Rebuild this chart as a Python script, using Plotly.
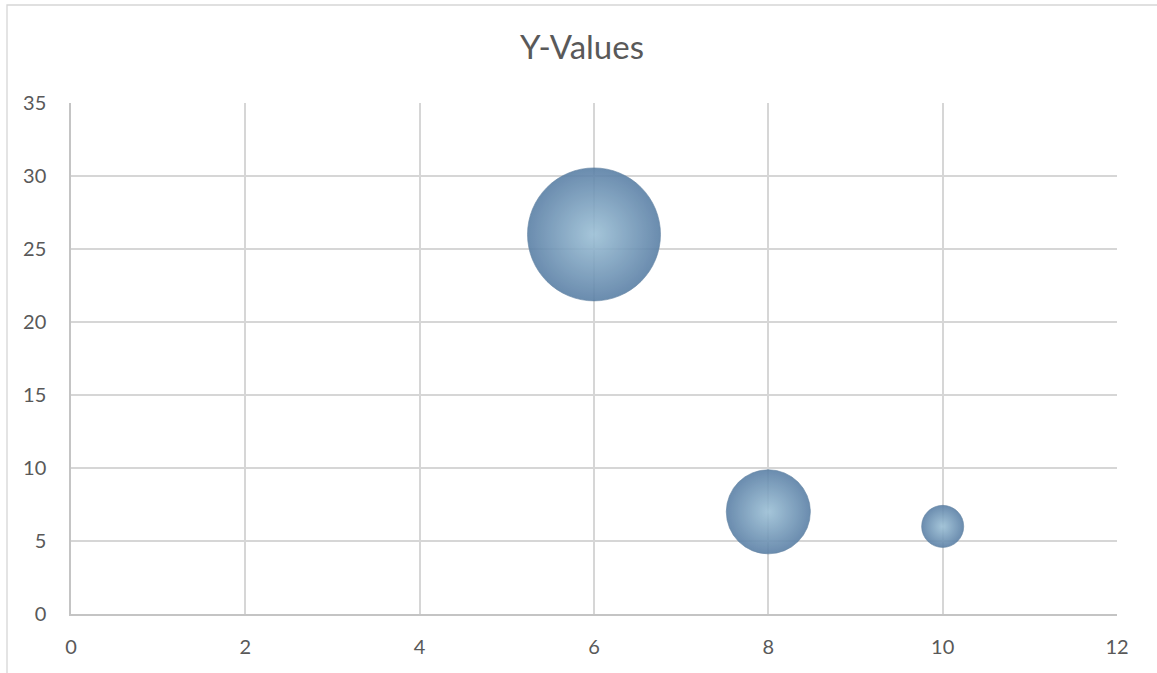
import plotly.graph_objects as go

# Bubble data: x position, y position and bubble size
x_values = [6, 8, 10]
y_values = [26, 7, 6]
bubble_sizes = [10, 4, 1]

x_ticks = [0, 2, 4, 6, 8, 10, 12]
y_ticks = [0, 5, 10, 15, 20, 25, 30, 35]

W, H = 1157, 673
M_L, M_R, M_T, M_B = 71, 40, 103, 59

text_color = "#595959"
grid_color = "#d6d6d6"
axis_color = "#c4c4c4"
font_family = "Lato, 'Open Sans', sans-serif"

# largest bubble is about 133 px across
MAX_DIAMETER = 133

fig = go.Figure()

fig.add_trace(
    go.Scatter(
        x=x_values,
        y=y_values,
        mode="markers",
        name="Y-Values",
        marker=dict(
            size=bubble_sizes,
            sizemode="area",
            sizeref=2.0 * max(bubble_sizes) / MAX_DIAMETER ** 2,
            color="#5b80a6",
            opacity=0.9,
            gradient=dict(type="radial", color="#9cc0d6"),
            line=dict(width=0.6, color="#56789a"),
        ),
        hoverinfo="x+y",
    )
)

plot_w = W - M_L - M_R
plot_h = H - M_T - M_B

# Chart-area border: left and top edges visible inside the frame
fig.add_shape(
    type="rect",
    xref="paper",
    yref="paper",
    x0=(7 - M_L) / plot_w,
    x1=(W + 20 - M_L) / plot_w,
    y0=-(M_B + 20) / plot_h,
    y1=(H - 5 - M_B) / plot_h,
    line=dict(color=grid_color, width=1.3),
    fillcolor="rgba(0,0,0,0)",
    layer="below",
)

fig.update_layout(
    width=W,
    height=H,
    margin=dict(l=M_L, r=M_R, t=M_T, b=M_B),
    paper_bgcolor="white",
    plot_bgcolor="white",
    showlegend=False,
    font=dict(family=font_family, color=text_color, size=20),
    title=dict(
        text="Y-Values",
        x=(582 / W),
        xanchor="center",
        y=1 - 47 / H,
        yanchor="middle",
        font=dict(family=font_family, size=33, color=text_color),
    ),
    xaxis=dict(
        range=[0, 12],
        tickvals=x_ticks,
        showgrid=True,
        gridcolor=grid_color,
        gridwidth=1.5,
        zeroline=False,
        showline=True,
        linecolor=axis_color,
        linewidth=1.5,
        ticks="",
        ticklabelstandoff=14,
        tickfont=dict(size=20, color=text_color),
    ),
    yaxis=dict(
        range=[0, 35],
        tickvals=y_ticks,
        showgrid=True,
        gridcolor=grid_color,
        gridwidth=1.5,
        zeroline=False,
        showline=True,
        linecolor=axis_color,
        linewidth=1.5,
        ticks="",
        ticklabelstandoff=19,
        tickfont=dict(size=20, color=text_color),
    ),
)

fig.write_html("out.html")
